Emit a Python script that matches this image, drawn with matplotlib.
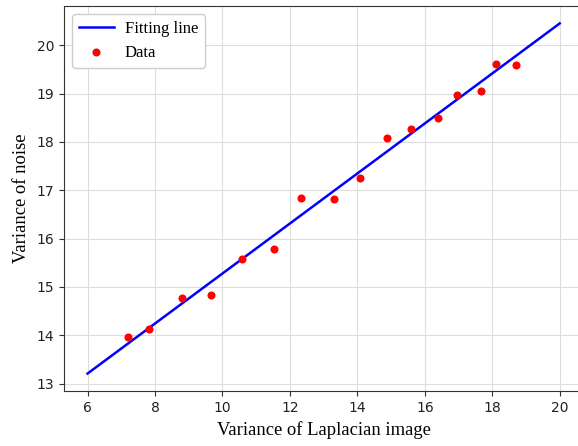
import numpy as np
import matplotlib
matplotlib.use("Agg")
import matplotlib.pyplot as plt

# measured data points
var_laplacian = [7.19, 7.83, 8.80, 9.67, 10.59, 11.54, 12.34, 13.30,
                 14.08, 14.89, 15.60, 16.38, 16.94, 17.68, 18.11, 18.70]
var_noise = [13.96, 14.13, 14.78, 14.83, 15.58, 15.78, 16.84, 16.81,
             17.25, 18.09, 18.27, 18.50, 18.96, 19.06, 19.62, 19.60]

# fitting line endpoints
fit_x = [6, 20]
fit_y = [13.21, 20.45]

fig = plt.figure(figsize=(5.78, 4.46), dpi=100)
ax = fig.add_axes([0.1107, 0.1224, 0.8985, 0.8641])

ax.plot(fit_x, fit_y, color='blue', linewidth=1.8, label='Fitting line')
ax.plot(var_laplacian, var_noise, 'o', color='red', markersize=4.8, label='Data')

ax.set_xlim(5.3, 20.7)
ax.set_ylim(12.84, 20.81)
ax.set_xticks(range(6, 21, 2))
ax.set_yticks(range(13, 21))
ax.grid(True, color='#dddddd', linewidth=0.8)
ax.set_axisbelow(True)

for s in ax.spines.values():
    s.set_color('#333333')
ax.spines['right'].set_visible(False)
ax.tick_params(colors='#333333', labelsize=10, labelcolor='#222222')

serif = 'Liberation Serif'
ax.set_xlabel('Variance of Laplacian image', family=serif, fontsize=13.4, labelpad=4)
ax.set_ylabel('Variance of noise', family=serif, fontsize=13.4, labelpad=5)

ax.legend(loc='upper left', prop={'family': serif, 'size': 12}, numpoints=1,
          framealpha=1, edgecolor='#cccccc', handlelength=2.1, handletextpad=0.65)

fig.savefig('out.png', dpi=100)
